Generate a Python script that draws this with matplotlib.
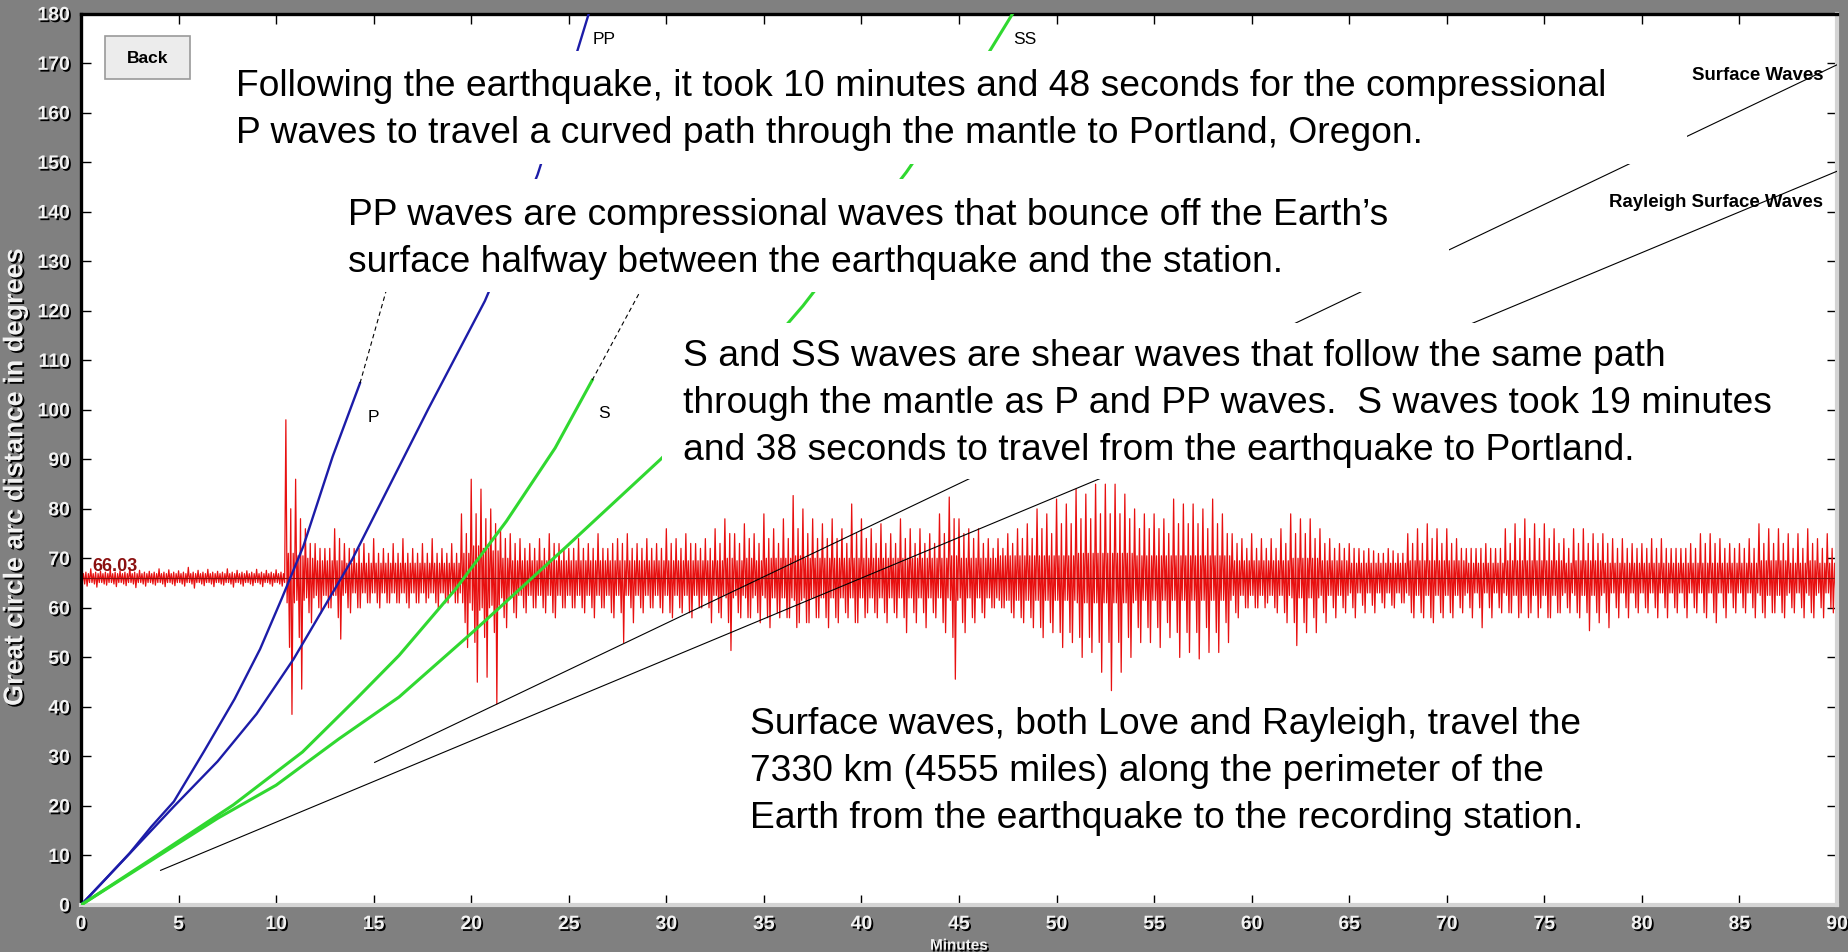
import numpy as np
import matplotlib
matplotlib.use("Agg")
import matplotlib.pyplot as plt
import matplotlib.patheffects as pe
from matplotlib.patches import Rectangle

W, H = 1849, 953

# travel-time curves: minutes after the event vs great circle distance (deg)
p_min = [0, 1.2, 2.5, 3.6, 4.76, 6.3, 7.87, 9.18, 10.3, 11.4, 12.9, 14.3]
p_deg = [0, 5.0, 10.5, 15.8, 20.9, 31.0, 41.6, 51.7, 62.0, 72.5, 90.6, 105.4]
p_ext_min = [14.3, 15.6, 16.2]
p_ext_deg = [105.4, 123.5, 132.0]

pp_min = [0, 2.4, 4.76, 7.0, 9.0, 10.9, 13.9, 17.8, 20.7, 22.0, 23.4, 25.4, 26.1]
pp_deg = [0, 10.0, 19.9, 29.0, 38.6, 49.7, 69.8, 100.2, 122.0, 134.0, 147.5, 172.0, 181.0]

s_min = [0, 3.5, 7.8, 11.35, 14.1, 16.3, 19.2, 21.8, 24.3, 26.2]
s_deg = [0, 9.0, 20.2, 30.9, 41.6, 50.4, 63.8, 77.5, 92.3, 106.0]
s_ext_min = [26.2, 28.6, 29.3]
s_ext_deg = [106.0, 123.5, 128.6]

ss_min = [0, 4.0, 7.0, 10.0, 13.2, 16.3, 20.1, 24.8, 29.7, 33.5, 37.0, 42.3, 46.5, 47.9]
ss_deg = [0, 10.0, 17.5, 24.2, 33.5, 42.0, 55.2, 72.1, 90.0, 105.0, 121.0, 148.0, 172.0, 181.0]

love_min = [15.05, 90]
love_deg = [28.8, 169.7]
rayleigh_min = [4.08, 90]
rayleigh_deg = [7.0, 148.2]

# seismogram recorded at Portland, drawn about the station distance
station_deg = 66.03
bin_width = 0.5  # minutes per reading
# peak up / peak down in each half-minute window (deg on the distance scale)
trace_hi = [67.6, 67.9, 67.4, 67.8, 67.5, 68.1, 67.6, 67.4, 67.9, 67.7,
            67.5, 68.2, 67.6, 67.8, 67.4, 67.9, 67.6, 67.5, 67.8, 67.6,
            67.7, 98.0, 86.0, 76.0, 73.0, 72.0, 76.0, 73.0, 72.0, 73.0,
            74.0, 72.0, 73.0, 74.0, 72.0, 73.0, 74.0, 72.0, 73.0, 79.0,
            86.0, 84.0, 80.0, 76.0, 75.0, 74.0, 73.0, 74.0, 75.0, 73.0,
            72.0, 74.0, 73.0, 75.0, 72.0, 74.0, 75.0, 73.0, 74.0, 73.0,
            76.0, 74.0, 75.0, 73.0, 74.0, 76.0, 78.0, 75.0, 77.0, 75.0,
            79.0, 76.0, 78.0, 82.7, 80.0, 78.0, 77.0, 78.0, 76.0, 81.0,
            78.0, 76.0, 77.0, 75.0, 78.0, 76.0, 76.0, 75.0, 79.0, 82.4,
            78.0, 76.0, 76.0, 74.0, 74.0, 75.0, 76.0, 77.0, 80.0, 79.0,
            82.0, 81.0, 84.0, 83.0, 85.0, 85.0, 85.0, 83.0, 80.0, 79.0,
            79.0, 78.0, 82.0, 81.0, 81.0, 80.0, 82.0, 79.0, 75.0, 74.0,
            75.0, 74.0, 74.0, 76.0, 79.0, 78.0, 78.0, 76.0, 74.0, 73.0,
            73.0, 72.0, 72.0, 71.0, 72.0, 71.0, 75.0, 76.0, 77.0, 76.0,
            76.0, 74.0, 72.0, 72.0, 73.0, 72.0, 76.0, 77.0, 78.0, 77.0,
            77.0, 76.0, 74.0, 76.0, 76.0, 75.0, 75.0, 74.0, 74.0, 73.0,
            73.0, 74.0, 74.0, 72.0, 72.0, 73.0, 75.0, 75.0, 74.0, 73.0,
            73.0, 74.0, 77.0, 76.0, 76.0, 75.0, 75.0, 76.0, 74.0, 75.0]
trace_lo = [64.4, 64.2, 64.6, 64.3, 64.5, 64.1, 64.4, 64.6, 64.3, 64.5,
            64.4, 64.0, 64.5, 64.3, 64.6, 64.2, 64.4, 64.5, 64.3, 64.4,
            64.4, 38.5, 43.6, 57.0, 59.0, 60.0, 53.7, 59.0, 60.0, 61.0,
            60.0, 61.0, 61.0, 60.0, 61.0, 62.0, 60.0, 61.0, 61.0, 52.0,
            45.0, 46.0, 40.6, 56.0, 58.0, 59.0, 60.0, 59.0, 58.0, 60.0,
            60.0, 59.0, 58.0, 60.0, 58.0, 53.0, 57.0, 59.0, 60.0, 59.0,
            58.0, 59.0, 58.0, 60.0, 57.0, 58.0, 51.4, 58.0, 58.0, 57.0,
            56.0, 58.0, 58.0, 57.0, 57.0, 58.0, 56.0, 57.0, 58.0, 57.0,
            59.0, 58.0, 57.0, 58.0, 55.0, 57.0, 56.0, 58.0, 55.0, 45.6,
            55.0, 57.0, 58.0, 60.0, 60.0, 58.0, 57.0, 56.0, 54.0, 55.0,
            52.0, 53.0, 50.0, 51.0, 47.0, 43.3, 47.0, 50.0, 53.0, 53.0,
            52.0, 54.0, 50.0, 51.0, 49.7, 51.0, 51.0, 53.0, 58.0, 60.0,
            60.0, 61.0, 59.0, 57.0, 52.4, 55.0, 55.0, 57.0, 58.0, 59.0,
            58.0, 59.0, 59.0, 60.0, 60.0, 61.0, 58.0, 58.0, 57.0, 58.0,
            58.0, 59.0, 58.0, 56.0, 58.0, 59.0, 59.0, 59.0, 59.0, 60.0,
            58.0, 59.0, 59.0, 58.0, 55.4, 57.0, 56.0, 58.0, 58.0, 59.0,
            59.0, 58.0, 58.0, 59.0, 58.0, 59.0, 58.0, 57.0, 58.0, 59.0,
            59.0, 58.0, 58.0, 59.0, 58.0, 59.0, 58.0, 58.0, 58.0, 59.0]
# typical swing of the ordinary strokes in each window (deg either side)
trace_mid = ([1.2] * 21
             + [14, 12, 7, 6, 6, 8, 6, 6, 5, 5, 5, 5, 5, 5, 5, 5, 5, 5]
             + [9, 13, 12, 11, 8, 7, 6, 6, 6, 7, 6, 6, 6, 6, 6, 7, 7, 6, 6, 6, 6]
             + [7, 6, 7, 6, 6, 7, 9, 7, 8, 7, 8, 7, 8, 10, 9, 8, 8, 8, 7, 9,
                8, 7, 7, 7, 8, 7, 7, 7]
             + [9, 12, 9, 8, 7, 6, 6, 7, 8, 8, 10, 9, 11, 11, 12, 12, 13, 13, 13, 12,
                10, 10, 10, 9, 11, 11, 11, 10, 11, 9, 7, 6]
             + [6, 6, 6, 7, 9, 9, 8, 7, 6, 6, 6, 5.5, 5.5, 5, 5.5, 5, 7, 7, 8, 7,
                7, 6, 6, 6, 6, 6, 7, 8, 8, 8, 8, 7, 6, 7, 7, 7, 7, 6, 6, 6,
                6, 6, 6, 6, 6, 6, 7, 7, 6, 6, 6, 6, 7, 7, 7, 6, 6, 7, 6, 6])
# half-width of the dense part of the trace in each window
trace_core = [0.9] * 21 + [5.0, 4.5, 4.0, 3.5, 3.5, 3.5, 3.0, 3.0, 3.0,
                           3.0, 3.0, 3.0, 3.0, 3.0, 3.0, 3.0, 3.0, 3.0, 5.0,
                           6.5, 6.0, 5.5, 4.0, 3.5, 3.5, 3.5, 3.5, 3.5, 3.5,
                           3.5, 3.5, 3.5, 3.5, 3.5, 3.5, 3.5, 3.5, 3.5, 3.5,
                           3.5, 3.5, 3.5, 3.5, 3.5, 3.5, 4.0, 3.5, 4.0, 3.5,
                           4.0, 4.0, 4.0, 4.5, 4.0, 4.0, 4.0, 4.0, 4.0, 4.0,
                           4.0, 4.0, 4.0, 4.0, 4.0, 4.0, 4.0, 4.0, 4.0, 4.5,
                           4.0, 4.0, 4.0, 4.0, 4.5, 4.5, 4.5, 4.5, 4.5, 4.5,
                           4.5, 4.5, 5.0, 5.0, 5.0, 5.0, 5.0, 5.0, 4.5, 4.5,
                           4.5, 4.5, 4.5, 4.5, 4.5, 4.5, 4.5, 4.5, 3.5, 3.5,
                           3.5, 3.5, 3.5, 3.5, 4.0, 4.0, 4.0, 3.5, 3.5, 3.5,
                           3.0, 3.0, 3.0, 3.0, 3.0, 3.0, 3.5, 3.5, 3.5, 3.5,
                           3.5, 3.5, 3.0, 3.0, 3.0, 3.0, 3.5, 3.5, 3.5, 3.5,
                           3.5, 3.5, 3.0, 3.5, 3.5, 3.5, 3.0, 3.0, 3.0, 3.0,
                           3.0, 3.0, 3.0, 3.0, 3.0, 3.0, 3.0, 3.0, 3.0, 3.0,
                           3.0, 3.0, 3.5, 3.5, 3.5, 3.0, 3.0, 3.5, 3.0, 3.0]

x_ticks = list(range(0, 91, 5))
y_ticks = list(range(0, 181, 10))

# notes, anchored at the baseline of their last line (minutes, degrees)
notes = [
    ("Following the earthquake, it took 10 minutes and 48 seconds for the compressional\n"
     "P waves to travel a curved path through the mantle to Portland, Oregon.", 7.93, 154.1),
    ("PP waves are compressional waves that bounce off the Earth\u2019s\n"
     "surface halfway between the earthquake and the station.", 13.68, 128.1),
    ("S and SS waves are shear waves that follow the same path\n"
     "through the mantle as P and PP waves.  S waves took 19 minutes\n"
     "and 38 seconds to travel from the earthquake to Portland.", 30.86, 90.1),
    ("Surface waves, both Love and Rayleigh, travel the\n"
     "7330 km (4555 miles) along the perimeter of the\n"
     "Earth from the earthquake to the recording station.", 34.27, 15.7),
]
# white panels behind the notes (x0, y0, x1, y1 in minutes, degrees)
panels = [(7.9, 149.7, 82.3, 172.5), (13.3, 123.8, 70.1, 146.7), (29.8, 86.1, 89.3, 117.6)]

fig = plt.figure(figsize=(W / 100, H / 100), dpi=100, facecolor="#808080")
ax = fig.add_axes([81 / W, 1 - 906 / H, (1837 - 81) / W, (906 - 14.8) / H])
ax.set_xlim(0, 90)
ax.set_ylim(0, 180)
ax.set_facecolor("white")

# seismogram: each window swings out to its two peaks, its ordinary strokes
# and its dense core
hi = np.array(trace_hi)
lo = np.array(trace_lo)
mid = np.array(trace_mid, dtype=float)
core = np.array(trace_core)
t0 = np.arange(len(hi)) * bin_width
sequence = [hi, station_deg - core, station_deg + core, station_deg - mid,
            station_deg + mid, lo, station_deg + core, station_deg - core]
step = bin_width / len(sequence)
xs = np.column_stack([t0 + k * step for k in range(len(sequence))]).ravel()
ys = np.column_stack(sequence).ravel()
ax.plot(xs, ys, color="#e81010", lw=0.9, zorder=2)
ax.axhline(station_deg, color="#8b1010", lw=0.8, zorder=2)
ax.text(0.6, 67.6, "66.03", color="#8b1010", fontsize=13, fontweight="bold",
        family="Liberation Sans", va="baseline", zorder=3)

# travel-time curves
ax.plot(p_min, p_deg, color="#1c1ca8", lw=1.7, zorder=3)
ax.plot(pp_min, pp_deg, color="#1c1ca8", lw=1.7, zorder=3)
ax.plot(s_min, s_deg, color="#30d830", lw=2.2, zorder=3)
ax.plot(ss_min, ss_deg, color="#30d830", lw=2.2, zorder=3)
ax.plot(p_ext_min, p_ext_deg, color="black", lw=0.8, ls=(0, (4, 3)), zorder=3)
ax.plot(s_ext_min, s_ext_deg, color="black", lw=0.8, ls=(0, (4, 3)), zorder=3)
ax.plot(love_min, love_deg, color="black", lw=0.8, zorder=3)
ax.plot(rayleigh_min, rayleigh_deg, color="black", lw=0.8, zorder=3)

lab = dict(family="Liberation Sans", fontsize=12.5, zorder=6)
ax.text(14.7, 98.6, "P", va="center", **lab)
ax.text(26.5, 99.4, "S", va="center", **lab)
ax.text(26.2, 175.0, "PP", va="center", **lab)
ax.text(47.8, 175.0, "SS", va="center", **lab)

for x0, y0, x1, y1 in panels:
    ax.add_patch(Rectangle((x0, y0), x1 - x0, y1 - y0, facecolor="white",
                           edgecolor="none", zorder=4))

wave = dict(family="Liberation Sans", fontsize=13.4, fontweight="bold", ha="right",
            va="center", zorder=6)
ax.text(89.3, 167.7, "Surface Waves", **wave)
ax.text(89.3, 142.1, "Rayleigh Surface Waves", **wave)

for txt, x, y in notes:
    ax.text(x, y, txt, family="Liberation Sans", fontsize=26.8, va="baseline",
            linespacing=1.45, zorder=5)

# axes frame and ticks
ax.set_xticks(x_ticks)
ax.set_yticks(y_ticks)
ax.tick_params(direction="in", length=7, width=1, top=True, right=True,
               labelsize=14, labelcolor="#f2f2f2", pad=8)
shadow = [pe.withSimplePatchShadow(offset=(1.3, -1.3), shadow_rgbFace="black", alpha=1.0)]
for t in ax.get_xticklabels() + ax.get_yticklabels():
    t.set_fontfamily("Liberation Sans")
    t.set_fontweight("bold")
    t.set_path_effects(shadow)
for side in ("left", "top"):
    ax.spines[side].set_color("black")
    ax.spines[side].set_linewidth(2.4)
for side in ("right", "bottom"):
    ax.spines[side].set_color("#d4d4d4")
    ax.spines[side].set_linewidth(3.0)

ax.set_xlabel("Minutes", family="Liberation Sans", fontsize=11, fontweight="bold",
              color="#f2f2f2", labelpad=4, path_effects=shadow)
ax.set_ylabel("Great circle arc distance in degrees", family="Liberation Sans",
              fontsize=19.5, fontweight="bold", color="#f2f2f2", path_effects=shadow)
ax.yaxis.set_label_coords(-0.030, 0.48)

# Back button
bx, by, bw, bh = 105, 37, 85, 43
fig.add_artist(Rectangle((bx / W, 1 - (by + bh) / H), bw / W, bh / H,
                         transform=fig.transFigure, facecolor="#ececec",
                         edgecolor="#9a9a9a", lw=1.2, zorder=10))
fig.text((bx + bw / 2) / W, 1 - (by + bh / 2) / H, "Back", family="Liberation Sans",
         fontsize=12.5, fontweight="bold", ha="center", va="center", zorder=11)

fig.savefig("out.png", dpi=100, facecolor=fig.get_facecolor())
